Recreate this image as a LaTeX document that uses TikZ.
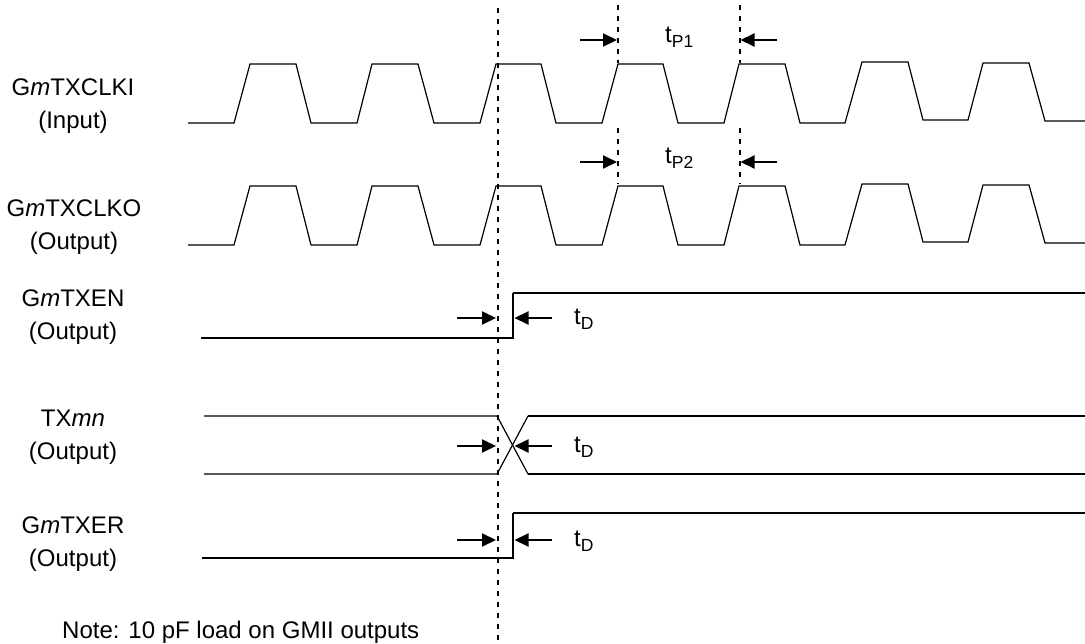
\documentclass[tikz,border=0pt]{standalone}
\usepackage{fontspec}
\setmainfont{Liberation Sans}
\usetikzlibrary{arrows.meta}
\tikzset{
  sig/.style={line width=1.2pt, line join=miter},
  sigthick/.style={line width=1.9pt},
  guide/.style={line width=2pt, dash pattern=on 5pt off 6pt},
  dimarrow/.style={line width=2pt, -{Triangle[length=14pt,width=13pt]}},
  lbl/.style={align=center, font=\fontsize{24}{33}\selectfont, inner sep=0pt},
  tlabel/.style={font=\fontsize{24}{28}\selectfont, inner sep=0pt, anchor=west},
}
\newcommand{\sublbl}[1]{\raisebox{-5pt}{\fontsize{17.5}{17.5}\selectfont #1}}
\begin{document}
\begin{tikzpicture}[x=1pt,y=-1pt]
\useasboundingbox (0,0) rectangle (1085,643);

% labels
\node[lbl] (l1) at (73,106) {G\textit{m}TXCLKI\\(Input)};
\node[lbl] (l2) at (74,227) {G\textit{m}TXCLKO\\(Output)};
\node[lbl] (l3) at (73,317) {G\textit{m}TXEN\\(Output)};
\node[lbl] (l4) at (73,437) {TX\textit{mn}\\(Output)};
\node[lbl] (l5) at (73,544) {G\textit{m}TXER\\(Output)};
\node[font=\fontsize{24}{28}\selectfont, inner sep=0pt, anchor=west] (note) at (62,632) {Note: 10 pF load on GMII outputs};

% clock 1
\draw[sig] (188,123)--(234,123)--(250,64)--(296,64)--(311,123)--(357,123)--(372,64)--(418,64)--(434,123)--(480,123)--(496,64)--(541,64)--(556,123)--(602,123)--(618,64)--(663,64)--(678,123)--(724,123)--(739,64)--(785,64)--(800,123)--(845,123)--(862,62)--(908,62)--(923,120)--(968,120)--(983,63)--(1029,63)--(1045,121)--(1085,121);
% clock 2
\begin{scope}[yshift=-122pt]
\draw[sig] (188,123)--(234,123)--(250,64)--(296,64)--(311,123)--(357,123)--(372,64)--(418,64)--(434,123)--(480,123)--(496,64)--(541,64)--(556,123)--(602,123)--(618,64)--(663,64)--(678,123)--(724,123)--(739,64)--(785,64)--(800,123)--(845,123)--(862,62)--(908,62)--(923,120)--(968,120)--(983,63)--(1029,63)--(1045,121)--(1085,121);
\end{scope}

% GmTXEN
\draw[sigthick] (201,338)--(513,338)--(513,293);
\draw[sig] (513,293)--(885,293);
\draw[sigthick] (885,293)--(1085,293);
% TXmn
\draw[sig] (204,416)--(497,416)--(528,474);
\draw[sig] (204,474)--(497,474)--(528,416);
\draw[sigthick] (528,416)--(1085,416);
\draw[sigthick] (528,474)--(1085,474);
% GmTXER
\draw[sigthick] (202,558)--(513,558)--(513,513);
\draw[sig] (513,513)--(885,513);
\draw[sigthick] (885,513)--(1085,513);

% guides
\coordinate (gtop) at (498,8);
\coordinate (gbot) at (498,641);
\draw[guide] (gtop)--(gbot);
\coordinate (p1a) at (618,5); \coordinate (p1b) at (618,63);
\coordinate (p2a) at (739.5,5); \coordinate (p2b) at (739.5,63);
\coordinate (p3a) at (618,128); \coordinate (p3b) at (618,184);
\coordinate (p4a) at (739.5,128); \coordinate (p4b) at (739.5,184);
\draw[guide] (p1a)--(p1b);
\draw[guide] (p2a)--(p2b);
\draw[guide] (p3a)--(p3b);
\draw[guide] (p4a)--(p4b);

% tP arrows
\coordinate (a1s) at (580,40); \coordinate (a1e) at (617,40);
\coordinate (a2s) at (777,40); \coordinate (a2e) at (740.5,40);
\draw[dimarrow] (a1s)--(a1e);
\draw[dimarrow] (a2s)--(a2e);
\node[tlabel] (tp1) at (665,37) {t\sublbl{P1}};
\coordinate (a3s) at (580,162); \coordinate (a3e) at (617,162);
\coordinate (a4s) at (777,162); \coordinate (a4e) at (740.5,162);
\draw[dimarrow] (a3s)--(a3e);
\draw[dimarrow] (a4s)--(a4e);
\node[tlabel] (tp2) at (665,158) {t\sublbl{P2}};

% tD arrows
\foreach \yy/\nm in {318/d1, 446/d2, 540/d3}{
  \coordinate (\nm rs) at (457,\yy); \coordinate (\nm re) at (496,\yy);
  \coordinate (\nm ls) at (552,\yy); \coordinate (\nm le) at (514.5,\yy);
  \draw[dimarrow] (\nm rs)--(\nm re);
  \draw[dimarrow] (\nm ls)--(\nm le);
  \node[tlabel] (\nm t) at (574,\yy+1) {t\sublbl{D}};
}
\end{tikzpicture}
\end{document}
